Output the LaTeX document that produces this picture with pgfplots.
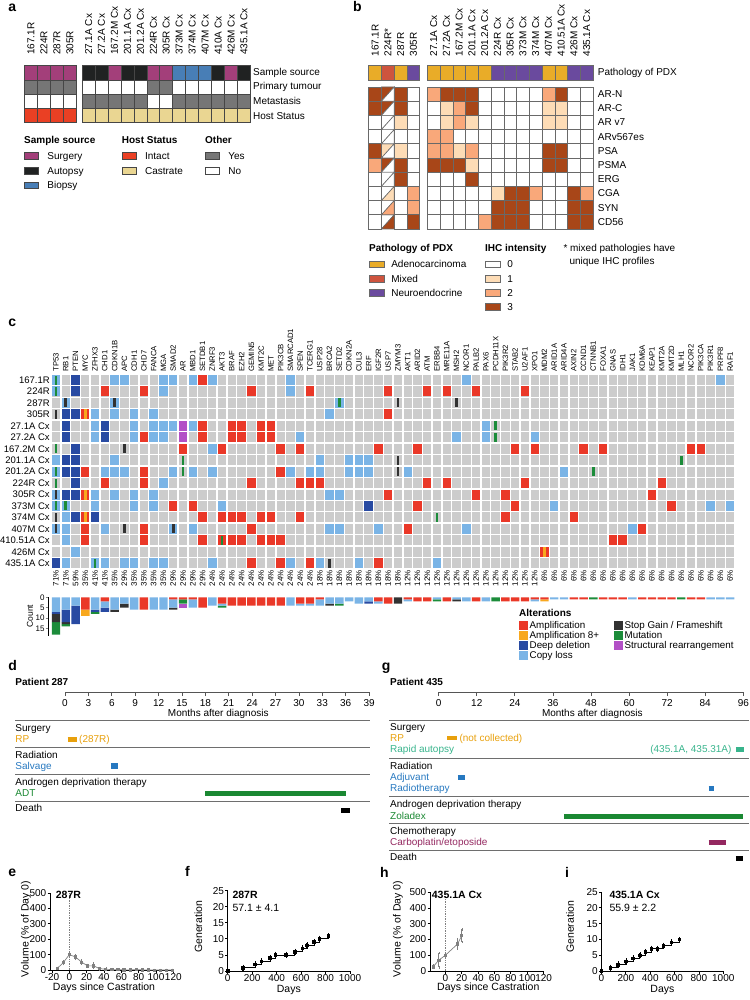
\documentclass[border=0pt]{standalone}
\usepackage{pgfplots}
\usepackage{pgfplotstable}
\pgfplotsset{compat=1.18}
\usepackage{fontspec}
\setmainfont{Liberation Sans}
\pgfplotsset{/pgf/number format/assume math mode=true,/pgf/number format/1000 sep={}}
\newcommand{\fs}[1]{\fontsize{#1}{#1}\selectfont}
\newcommand{\Tl}[4][]{\node[anchor=base west,inner sep=0pt,#1] at (#2pt,-#3pt) {#4};}
\newcommand{\Tc}[4][]{\node[anchor=base,inner sep=0pt,#1] at (#2pt,-#3pt) {#4};}

\definecolor{surg}{RGB}{163,63,122}
\definecolor{aut}{RGB}{32,34,34}
\definecolor{bio}{RGB}{72,126,182}
\definecolor{intact}{RGB}{234,64,36}
\definecolor{castr}{RGB}{234,214,146}
\definecolor{yesg}{RGB}{118,118,118}
\definecolor{abord}{RGB}{70,70,70}
\definecolor{adeno}{RGB}{233,172,40}
\definecolor{mixd}{RGB}{206,84,62}
\definecolor{neuro}{RGB}{106,74,158}
\definecolor{ihcA}{RGB}{253,220,182}
\definecolor{ihcB}{RGB}{249,168,122}
\definecolor{ihcC}{RGB}{168,70,24}
\definecolor{bbord}{RGB}{105,105,105}
\definecolor{cgrey}{RGB}{204,204,204}
\definecolor{lblue}{RGB}{122,180,230}
\definecolor{dblue}{RGB}{40,74,162}
\definecolor{ampr}{RGB}{234,56,40}
\definecolor{ampo}{RGB}{248,168,30}
\definecolor{stopg}{RGB}{50,50,50}
\definecolor{mutg}{RGB}{28,140,58}
\definecolor{strp}{RGB}{178,80,198}
\definecolor{rpc}{RGB}{232,160,12}
\definecolor{autc}{RGB}{56,180,140}
\definecolor{radc}{RGB}{38,120,192}
\definecolor{adtc}{RGB}{26,136,50}
\definecolor{chemc}{RGB}{148,40,96}
\definecolor{tlg}{RGB}{85,85,85}
\definecolor{sepc}{RGB}{110,110,110}

\pgfdeclareplotmark{acell}{\pgfpathrectangle{\pgfpoint{-6.475pt}{-7.125pt}}{\pgfpoint{12.95pt}{14.25pt}}\pgfusepathqfillstroke}
\pgfdeclareplotmark{bcell}{\pgfpathrectangle{\pgfpoint{-6.375pt}{-7.1pt}}{\pgfpoint{12.75pt}{14.2pt}}\pgfusepathqfillstroke}
\pgfdeclareplotmark{btriU}{\pgfpathmoveto{\pgfpoint{-6.375pt}{-7.1pt}}\pgfpathlineto{\pgfpoint{-6.375pt}{7.1pt}}\pgfpathlineto{\pgfpoint{6.375pt}{7.1pt}}\pgfpathclose\pgfusepathqfillstroke}
\pgfdeclareplotmark{btriL}{\pgfpathmoveto{\pgfpoint{-6.375pt}{-7.1pt}}\pgfpathlineto{\pgfpoint{6.375pt}{-7.1pt}}\pgfpathlineto{\pgfpoint{6.375pt}{7.1pt}}\pgfpathclose\pgfusepathqfillstroke}
\pgfdeclareplotmark{ccell}{\pgfpathrectangle{\pgfpoint{-4.2pt}{-5pt}}{\pgfpoint{8.4pt}{10pt}}\pgfusepathqfill}
\pgfdeclareplotmark{cbar}{\pgfpathrectangle{\pgfpoint{-1.3pt}{-4.5pt}}{\pgfpoint{2.6pt}{9pt}}\pgfusepathqfill}
\pgfdeclareplotmark{cstripe}{\pgfpathrectangle{\pgfpoint{-1.4pt}{-5pt}}{\pgfpoint{2.8pt}{10pt}}\pgfusepathqfill}

\pgfplotsset{legax/.style={scale only axis,width=1pt,height=1pt,hide axis,xmin=0,xmax=1,ymin=0,ymax=1,anchor=north west,
  legend style={at={(0,1)},anchor=north west,draw=none,fill=none,inner sep=0pt,outer sep=0pt},legend cell align=left},
  prism/.style={scale only axis,anchor=south west,clip=false,
  axis x line*=bottom,axis y line*=left,axis line style={line width=0.9pt,black},
  xtick pos=left,ytick pos=left,xticklabel pos=left,yticklabel pos=left,
  tick align=outside,major tick length=2.5pt,tick style={line width=0.9pt,black},
  xticklabel style={font=\fs{10},inner sep=1pt,anchor=north},
  yticklabel style={font=\fs{10},inner sep=1pt,anchor=east}}}

% counts per gene (columns of panel c): A=amplification, P=amplification 8+, L=copy loss, D=deep deletion, S=stop gain, M=mutation, R=structural
\pgfplotstableread{
c A P L D S M R
0 0 0 7 1 4 6 0
1 0 0 6 6 1 1 0
2 0 0 4 9 0 0 0
3 6 3 0 0 0 0 0
4 0 0 6 1 0 1 0
5 2 0 3 2 0 0 0
6 0 0 6 0 1 0 0
7 0 0 3 0 2 0 0
8 0 0 6 0 0 0 0
9 6 0 0 0 0 0 0
10 0 0 6 0 0 0 0
11 0 0 6 0 0 0 0
12 1 0 4 0 1 0 0
13 1 0 0 0 0 2 2
14 1 0 4 0 0 0 0
15 5 0 0 0 0 0 0
16 0 0 4 0 0 0 0
17 3 0 1 0 0 1 0
18 4 0 0 0 0 0 0
19 4 0 0 0 0 0 0
20 4 0 0 0 0 0 0
21 4 0 0 0 0 0 0
22 4 0 0 0 0 0 0
23 4 0 0 0 0 0 0
24 0 0 4 0 0 0 0
25 3 0 1 0 0 0 0
26 3 0 1 0 0 0 0
27 1 0 3 0 0 0 0
28 0 0 3 0 1 0 0
29 0 0 3 0 0 1 0
30 0 0 2 0 0 0 0
31 0 0 3 0 0 0 0
32 0 0 2 1 0 0 0
33 2 0 1 0 0 0 0
34 3 0 0 0 0 0 0
35 0 0 0 0 3 0 0
36 1 0 1 0 0 0 0
37 2 0 0 0 0 0 0
38 2 0 0 0 0 0 0
39 0 0 1 0 0 1 0
40 2 0 0 0 0 0 0
41 0 0 1 0 1 0 0
42 0 0 2 0 0 0 0
43 2 0 0 0 0 0 0
44 0 0 2 0 0 0 0
45 0 0 0 0 0 2 0
46 2 0 0 0 0 0 0
47 2 0 0 0 0 0 0
48 2 0 0 0 0 0 0
49 1 0 1 0 0 0 0
50 1 1 0 0 0 0 0
51 0 0 1 0 0 0 0
52 0 0 1 0 0 0 0
53 1 0 0 0 0 0 0
54 1 0 0 0 0 0 0
55 0 0 0 0 0 1 0
56 1 0 0 0 0 0 0
57 1 0 0 0 0 0 0
58 1 0 0 0 0 0 0
59 0 0 1 0 0 0 0
60 1 0 0 0 0 0 0
61 1 0 0 0 0 0 0
62 1 0 0 0 0 0 0
63 1 0 0 0 0 0 0
64 0 0 0 0 0 1 0
65 1 0 0 0 0 0 0
66 1 0 0 0 0 0 0
67 0 0 1 0 0 0 0
68 0 0 1 0 0 0 0
69 0 0 1 0 0 0 0
}\cnt

\pgfplotstableread{
d v e
-14 10 3
-7 48 10
0 100 3
7 85 12
14 52 8
21 27 6
28 27 15
35 9 5
42 5 3
49 3 2
56 2 2
63 1 1
70 1 1
77 2 1
84 1 1
91 1 1
98 0 1
105 0 1
112 0 0
119 0 0
}\edata

\pgfplotstableread{
d v e
-15 26 8
-8 69 45
0 100 0
15 172 30
20 225 40
}\hdata

\pgfplotstableread{
d g e
0 0 0
124 1 0.6
224 2 0.6
276 3 0.6
347 4 0.6
390 5 0.6
477 5 0.6
548 6 0.6
610 7 0.6
646 8 0.6
706 9 0.6
750 10 0.6
823 11 0.4
}\fdata

\pgfplotstableread{
d g e
0 0 0
74 1 0.6
137 2 0.6
200 3 0.6
260 4 0.6
315 5 0.6
359 6 0.6
411 7 0.6
460 7 0.6
507 8 0.6
575 9 0.6
638 10 0.4
}\idata

\begin{document}
\begin{tikzpicture}
\useasboundingbox (0pt,0pt) rectangle (749pt,-1000pt);

% ---------------- panel letters
\Tl[font=\fs{14}\bfseries]{8.3}{11.5}{a}
\Tl[font=\fs{14}\bfseries]{353}{11.5}{b}
\Tl[font=\fs{14}\bfseries]{8.3}{326.5}{c}
\Tl[font=\fs{14}\bfseries]{8.3}{670}{d}
\Tl[font=\fs{14}\bfseries]{381.7}{670}{g}
\Tl[font=\fs{14}\bfseries]{8.3}{876.5}{e}
\Tl[font=\fs{14}\bfseries]{185}{876.5}{f}
\Tl[font=\fs{14}\bfseries]{380}{877}{h}
\Tl[font=\fs{14}\bfseries]{565}{877}{i}

% ---------------- panel a
\begin{axis}[at={(24.5pt,-122.7pt)},anchor=south west,scale only axis,
  width=225.98pt,height=57pt,xmin=-0.5,xmax=16.95,ymin=-3.5,ymax=0.5,clip=false,
  axis line style={draw=none},tick style={draw=none},major tick length=0pt,
  xtick={0,1,2,3,4.45,5.45,6.45,7.45,8.45,9.45,10.45,11.45,12.45,13.45,14.45,15.45,16.45},
  xticklabels={167.1R,224R,287R,305R,27.1A Cx,27.2A Cx,167.2M Cx,201.1A Cx,201.2A Cx,224R Cx,305R Cx,373M Cx,374M Cx,407M Cx,410A Cx,426M Cx,435.1A Cx},
  xticklabel pos=upper,xticklabel style={rotate=90,anchor=west,inner sep=0pt,font=\fs{10}},xticklabel shift=10.5pt,
  ytick={-3,-2,-1,0},yticklabels={Host Status,Metastasis,Primary tumour,Sample source},
  yticklabel pos=upper,yticklabel style={anchor=west,inner sep=0pt,font=\fs{10}},yticklabel shift=2.5pt]
\addplot[only marks,mark=acell,draw=abord,fill=surg,line width=0.7pt] coordinates {(0,0)(1,0)(2,0)(3,0)(6.45,0)(9.45,0)(10.45,0)(15.45,0)};
\addplot[only marks,mark=acell,draw=abord,fill=aut,line width=0.7pt] coordinates {(4.45,0)(5.45,0)(7.45,0)(8.45,0)(14.45,0)(16.45,0)};
\addplot[only marks,mark=acell,draw=abord,fill=bio,line width=0.7pt] coordinates {(11.45,0)(12.45,0)(13.45,0)};
\addplot[only marks,mark=acell,draw=abord,fill=yesg,line width=0.7pt] coordinates {(0,-1)(1,-1)(2,-1)(3,-1)(9.45,-1)(10.45,-1)
  (4.45,-2)(5.45,-2)(6.45,-2)(7.45,-2)(8.45,-2)(11.45,-2)(12.45,-2)(13.45,-2)(14.45,-2)(15.45,-2)(16.45,-2)};
\addplot[only marks,mark=acell,draw=abord,fill=white,line width=0.7pt] coordinates {(4.45,-1)(5.45,-1)(6.45,-1)(7.45,-1)(8.45,-1)(11.45,-1)(12.45,-1)(13.45,-1)(14.45,-1)(15.45,-1)(16.45,-1)
  (0,-2)(1,-2)(2,-2)(3,-2)(9.45,-2)(10.45,-2)};
\addplot[only marks,mark=acell,draw=abord,fill=intact,line width=0.7pt] coordinates {(0,-3)(1,-3)(2,-3)(3,-3)};
\addplot[only marks,mark=acell,draw=abord,fill=castr,line width=0.7pt] coordinates {(4.45,-3)(5.45,-3)(6.45,-3)(7.45,-3)(8.45,-3)(9.45,-3)(10.45,-3)(11.45,-3)(12.45,-3)(13.45,-3)(14.45,-3)(15.45,-3)(16.45,-3)};
\end{axis}

\Tl[font=\fs{10}\bfseries]{24}{144}{Sample source}
\Tl[font=\fs{10}\bfseries]{121.7}{144}{Host Status}
\Tl[font=\fs{10}\bfseries]{205}{144}{Other}
\begin{axis}[legax,at={(24pt,-152.1pt)},
  legend style={row sep=5pt,font=\fs{10},nodes={inner sep=0pt,text height=7.5pt,text depth=2.2pt},/tikz/every odd column/.style={column sep=8.4pt}},
  legend image code/.code={\draw[#1] (0pt,-2.45pt) rectangle (14.3pt,4.25pt);}]
\addplot[draw=none,forget plot] coordinates {(0,0)};
\addlegendimage{fill=surg,draw=abord,line width=0.7pt}\addlegendentry{Surgery}
\addlegendimage{fill=aut,draw=abord,line width=0.7pt}\addlegendentry{Autopsy}
\addlegendimage{fill=bio,draw=abord,line width=0.7pt}\addlegendentry{Biopsy}
\end{axis}
\begin{axis}[legax,at={(121.7pt,-152.1pt)},
  legend style={row sep=5pt,font=\fs{10},nodes={inner sep=0pt,text height=7.5pt,text depth=2.2pt},/tikz/every odd column/.style={column sep=8.4pt}},
  legend image code/.code={\draw[#1] (0pt,-2.45pt) rectangle (14.3pt,4.25pt);}]
\addplot[draw=none,forget plot] coordinates {(0,0)};
\addlegendimage{fill=intact,draw=abord,line width=0.7pt}\addlegendentry{Intact}
\addlegendimage{fill=castr,draw=abord,line width=0.7pt}\addlegendentry{Castrate}
\end{axis}
\begin{axis}[legax,at={(205pt,-152.1pt)},
  legend style={row sep=5pt,font=\fs{10},nodes={inner sep=0pt,text height=7.5pt,text depth=2.2pt},/tikz/every odd column/.style={column sep=8.4pt}},
  legend image code/.code={\draw[#1] (0pt,-2.45pt) rectangle (14.3pt,4.25pt);}]
\addplot[draw=none,forget plot] coordinates {(0,0)};
\addlegendimage{fill=yesg,draw=abord,line width=0.7pt}\addlegendentry{Yes}
\addlegendimage{fill=white,draw=abord,line width=0.7pt}\addlegendentry{No}
\end{axis}

% ---------------- panel b
\begin{axis}[at={(368.7pt,-229pt)},anchor=south west,scale only axis,
  width=224.4pt,height=163.3pt,xmin=-0.5,xmax=17.1,ymin=-11,ymax=0.5,clip=false,
  axis line style={draw=none},tick style={draw=none},major tick length=0pt,
  xtick={0,1,2,3,4.6,5.6,6.6,7.6,8.6,9.6,10.6,11.6,12.6,13.6,14.6,15.6,16.6},
  xticklabels={167.1R,224R*,287R,305R,27.1A Cx,27.2A Cx,167.2M Cx,201.1A Cx,201.2A Cx,224R Cx,305R Cx,373M Cx,374M Cx,407M Cx,410.51A Cx,426M Cx,435.1A Cx},
  xticklabel pos=upper,xticklabel style={rotate=90,anchor=west,inner sep=0pt,font=\fs{10}},xticklabel shift=9pt,
  ytick={-10.5,-9.5,-8.5,-7.5,-6.5,-5.5,-4.5,-3.5,-2.5,-1.5,0},
  yticklabels={CD56,SYN,CGA,ERG,PSMA,PSA,ARv567es,AR v7,AR-C,AR-N,Pathology of PDX},
  yticklabel pos=upper,yticklabel style={anchor=west,inner sep=0pt,font=\fs{10}},yticklabel shift=4.6pt]
\addplot[only marks,mark=bcell,draw=bbord,fill=adeno,line width=0.6pt] coordinates {(0,0)(2,0)(4.6,0)(5.6,0)(6.6,0)(7.6,0)(8.6,0)(13.6,0)(14.6,0)};
\addplot[only marks,mark=bcell,draw=bbord,fill=mixd,line width=0.6pt] coordinates {(1,0)};
\addplot[only marks,mark=bcell,draw=bbord,fill=neuro,line width=0.6pt] coordinates {(3,0)(9.6,0)(10.6,0)(11.6,0)(12.6,0)(15.6,0)(16.6,0)};
\addplot[only marks,mark=bcell,draw=bbord,fill=white,line width=0.6pt] coordinates {
 (3,-1.5)(8.6,-1.5)(9.6,-1.5)(10.6,-1.5)(11.6,-1.5)(12.6,-1.5)(15.6,-1.5)(16.6,-1.5)
 (3,-2.5)(4.6,-2.5)(8.6,-2.5)(9.6,-2.5)(10.6,-2.5)(11.6,-2.5)(12.6,-2.5)(15.6,-2.5)(16.6,-2.5)
 (0,-3.5)(3,-3.5)(4.6,-3.5)(8.6,-3.5)(9.6,-3.5)(10.6,-3.5)(11.6,-3.5)(12.6,-3.5)(15.6,-3.5)(16.6,-3.5)
 (0,-4.5)(2,-4.5)(3,-4.5)(6.6,-4.5)(7.6,-4.5)(8.6,-4.5)(9.6,-4.5)(10.6,-4.5)(11.6,-4.5)(12.6,-4.5)(13.6,-4.5)(14.6,-4.5)(15.6,-4.5)(16.6,-4.5)
 (3,-5.5)(8.6,-5.5)(9.6,-5.5)(10.6,-5.5)(11.6,-5.5)(12.6,-5.5)(15.6,-5.5)(16.6,-5.5)
 (3,-6.5)(8.6,-6.5)(9.6,-6.5)(10.6,-6.5)(11.6,-6.5)(12.6,-6.5)(15.6,-6.5)(16.6,-6.5)
 (0,-7.5)(3,-7.5)(4.6,-7.5)(5.6,-7.5)(6.6,-7.5)(8.6,-7.5)(9.6,-7.5)(10.6,-7.5)(11.6,-7.5)(12.6,-7.5)(13.6,-7.5)(14.6,-7.5)(15.6,-7.5)(16.6,-7.5)
 (0,-8.5)(2,-8.5)(4.6,-8.5)(5.6,-8.5)(6.6,-8.5)(7.6,-8.5)(8.6,-8.5)(13.6,-8.5)(14.6,-8.5)
 (0,-9.5)(2,-9.5)(4.6,-9.5)(5.6,-9.5)(6.6,-9.5)(7.6,-9.5)(8.6,-9.5)(12.6,-9.5)(13.6,-9.5)(14.6,-9.5)
 (0,-10.5)(2,-10.5)(4.6,-10.5)(5.6,-10.5)(6.6,-10.5)(7.6,-10.5)(12.6,-10.5)(13.6,-10.5)(14.6,-10.5)};
\addplot[only marks,mark=bcell,draw=bbord,fill=ihcA,line width=0.6pt] coordinates {
 (5.6,-2.5)(13.6,-2.5)(14.6,-2.5)(2,-3.5)(5.6,-3.5)(7.6,-3.5)(13.6,-3.5)(14.6,-3.5)
 (2,-5.5)(6.6,-5.5)(7.6,-6.5)(9.6,-8.5)};
\addplot[only marks,mark=bcell,draw=bbord,fill=ihcB,line width=0.6pt] coordinates {
 (4.6,-1.5)(13.6,-1.5)(6.6,-2.5)(6.6,-3.5)(4.6,-4.5)(5.6,-4.5)(4.6,-5.5)(5.6,-5.5)(7.6,-5.5)
 (0,-6.5)(3,-8.5)(12.6,-8.5)(16.6,-8.5)(3,-9.5)(8.6,-10.5)};
\addplot[only marks,mark=bcell,draw=bbord,fill=ihcC,line width=0.6pt] coordinates {
 (0,-1.5)(2,-1.5)(5.6,-1.5)(6.6,-1.5)(7.6,-1.5)(14.6,-1.5)
 (0,-2.5)(2,-2.5)(7.6,-2.5)
 (0,-5.5)(13.6,-5.5)(14.6,-5.5)
 (2,-6.5)(4.6,-6.5)(5.6,-6.5)(6.6,-6.5)(13.6,-6.5)(14.6,-6.5)
 (2,-7.5)(7.6,-7.5)
 (10.6,-8.5)(11.6,-8.5)(15.6,-8.5)
 (9.6,-9.5)(10.6,-9.5)(11.6,-9.5)(15.6,-9.5)(16.6,-9.5)
 (3,-10.5)(9.6,-10.5)(10.6,-10.5)(11.6,-10.5)(15.6,-10.5)(16.6,-10.5)};
\addplot[only marks,mark=btriU,draw=bbord,fill=ihcC,line width=0.6pt] coordinates {(1,-1.5)(1,-2.5)(1,-6.5)};
\addplot[only marks,mark=btriU,draw=bbord,fill=ihcA,line width=0.6pt] coordinates {(1,-5.5)};
\addplot[only marks,mark=btriU,draw=bbord,fill=white,line width=0.6pt] coordinates {(1,-3.5)(1,-4.5)(1,-7.5)(1,-8.5)(1,-9.5)(1,-10.5)};
\addplot[only marks,mark=btriL,draw=bbord,fill=white,line width=0.6pt] coordinates {(1,-1.5)(1,-2.5)(1,-3.5)(1,-4.5)(1,-5.5)(1,-6.5)(1,-7.5)};
\addplot[only marks,mark=btriL,draw=bbord,fill=ihcA,line width=0.6pt] coordinates {(1,-8.5)};
\addplot[only marks,mark=btriL,draw=bbord,fill=ihcB,line width=0.6pt] coordinates {(1,-9.5)};
\addplot[only marks,mark=btriL,draw=bbord,fill=ihcC,line width=0.6pt] coordinates {(1,-10.5)};
\end{axis}

\Tl[font=\fs{10}\bfseries]{369}{251.6}{Pathology of PDX}
\Tl[font=\fs{10}\bfseries]{485}{251.6}{IHC intensity}
\Tl[font=\fs{10}]{563.3}{251.6}{* mixed pathologies have}
\Tl[font=\fs{10}]{569.3}{264.3}{unique IHC profiles}
\begin{axis}[legax,at={(368.7pt,-260.4pt)},
  legend style={row sep=4.5pt,font=\fs{10},nodes={inner sep=0pt,text height=7.5pt,text depth=2.2pt},/tikz/every odd column/.style={column sep=7pt}},
  legend image code/.code={\draw[#1] (0pt,-2.45pt) rectangle (15pt,4.25pt);}]
\addplot[draw=none,forget plot] coordinates {(0,0)};
\addlegendimage{fill=adeno,draw=bbord,line width=0.6pt}\addlegendentry{Adenocarcinoma}
\addlegendimage{fill=mixd,draw=bbord,line width=0.6pt}\addlegendentry{Mixed}
\addlegendimage{fill=neuro,draw=bbord,line width=0.6pt}\addlegendentry{Neuroendocrine}
\end{axis}
\begin{axis}[legax,at={(485pt,-260.4pt)},
  legend style={row sep=4.5pt,font=\fs{10},nodes={inner sep=0pt,text height=7.5pt,text depth=2.2pt},/tikz/every odd column/.style={column sep=6.7pt}},
  legend image code/.code={\draw[#1] (0pt,-2.45pt) rectangle (15pt,4.25pt);}]
\addplot[draw=none,forget plot] coordinates {(0,0)};
\addlegendimage{fill=white,draw=bbord,line width=0.6pt}\addlegendentry{0}
\addlegendimage{fill=ihcA,draw=bbord,line width=0.6pt}\addlegendentry{1}
\addlegendimage{fill=ihcB,draw=bbord,line width=0.6pt}\addlegendentry{2}
\addlegendimage{fill=ihcC,draw=bbord,line width=0.6pt}\addlegendentry{3}
\end{axis}

% ---------------- panel c : oncoprint grid
\begin{axis}[at={(51.1pt,-568.95pt)},anchor=south west,scale only axis,
  width=683.9pt,height=194.65pt,xmin=-0.5,xmax=69.5,ymin=-16.5,ymax=0.5,clip=false,
  axis background/.style={fill=cgrey},
  axis line style={draw=none},tick style={draw=none},major tick length=0pt,minor tick length=0pt,
  xtick={0,...,69},
  xticklabels={71\%,71\%,59\%,35\%,41\%,41\%,35\%,29\%,35\%,35\%,35\%,35\%,29\%,29\%,29\%,29\%,
   24\%,24\%,24\%,24\%,24\%,24\%,24\%,24\%,24\%,24\%,24\%,
   18\%,18\%,18\%,18\%,18\%,18\%,18\%,18\%,18\%,
   12\%,12\%,12\%,12\%,12\%,12\%,12\%,12\%,12\%,12\%,12\%,12\%,12\%,12\%,
   6\%,6\%,6\%,6\%,6\%,6\%,6\%,6\%,6\%,6\%,6\%,6\%,6\%,6\%,6\%,6\%,6\%,6\%,6\%,6\%},
  xticklabel style={rotate=90,anchor=east,inner sep=0pt,font=\fs{8}},xticklabel shift=1pt,
  ytick={-16,-15,-14,-13,-12,-11,-10,-9,-8,-7,-6,-5,-4,-3,-2,-1,0},
  yticklabels={435.1A Cx,426M Cx,410.51A Cx,407M Cx,374M Cx,373M Cx,305R Cx,224R Cx,201.2A Cx,201.1A Cx,167.2M Cx,27.2A Cx,27.1A Cx,305R,287R,224R,167.1R},
  yticklabel style={anchor=east,inner sep=0pt,font=\fs{9.5}},yticklabel shift=1.2pt,
  minor xtick={-0.5,0.5,...,69.5},minor ytick={-16.5,-15.5,...,0.5},
  xminorgrids=true,yminorgrids=true,minor grid style={white,line width=1.4pt}]
\addplot[only marks,mark=ccell,color=lblue] coordinates {
 (0,0)(0,-1)(0,-7)(0,-8)(0,-10)(0,-11)(0,-13)
 (1,-2)(1,-11)(1,-12)(1,-13)(1,-14)(1,-16)(2,-15)
 (4,-3)(4,-4)(4,-5)(4,-10)(4,-11)(4,-16)
 (5,-8)(5,-13)(5,-16)
 (6,0)(6,-2)(6,-3)(6,-7)(6,-8)(6,-10)
 (7,0)(7,-8)(7,-16)
 (8,-3)(8,-4)(8,-5)(8,-10)(8,-11)(8,-16)
 (10,-3)(10,-4)(10,-5)(10,-10)(10,-11)(10,-16)
 (11,0)(11,-1)(11,-4)(11,-5)(11,-9)(11,-16)
 (12,0)(12,-4)(12,-8)(12,-13)
 (14,0)(14,-4)(14,-8)(14,-13)
 (16,0)(16,-6)(16,-8)(16,-16)(17,-11)
 (24,0)(24,-1)(24,-8)(24,-16)(25,-5)(26,-8)
 (27,-7)(27,-8)(27,-16)(28,-3)(28,-10)(28,-13)(29,-2)(29,-10)(29,-13)
 (30,-7)(30,-8)(31,-7)(31,-8)(31,-16)(32,-7)(32,-8)
 (33,-13)(36,-8)(39,-16)(41,-5)(42,0)(42,-13)(44,-4)(44,-5)(49,-5)(51,-11)(52,-8)(59,-13)(67,-11)(68,0)(69,-11)};
\addplot[only marks,mark=ccell,color=dblue] coordinates {
 (0,-16)(1,-3)(1,-4)(1,-5)(1,-7)(1,-8)(1,-10)
 (2,0)(2,-1)(2,-3)(2,-6)(2,-7)(2,-8)(2,-9)(2,-10)(2,-12)
 (4,-12)(5,-4)(5,-5)(32,-11)};
\addplot[only marks,mark=ccell,color=ampr] coordinates {
 (3,-8)(3,-13)(3,-14)(5,-1)(5,-9)(9,-1)(9,-5)(9,-8)(9,-9)(9,-13)(9,-14)
 (12,-11)(13,-6)(14,-11)(15,0)(15,-4)(15,-5)(15,-12)(15,-14)
 (17,-6)(17,-12)(17,-14)(18,-4)(18,-5)(18,-12)(18,-14)(19,-4)(19,-5)(19,-12)(19,-14)
 (20,-1)(20,-9)(20,-13)(20,-16)(21,-4)(21,-5)(21,-12)(21,-14)(22,-4)(22,-5)(22,-12)(22,-14)
 (23,-6)(23,-8)(23,-14)(23,-16)(25,-6)(25,-9)(25,-12)(26,-1)(26,-9)(26,-16)(27,-9)
 (33,-6)(33,-16)(34,-1)(34,-3)(34,-10)(36,-13)(37,-6)(37,-11)(38,-1)(38,-9)(40,-1)(40,-9)
 (43,-1)(43,-10)(46,-10)(46,-12)(47,-6)(47,-11)(48,-1)(48,-9)(49,-6)(53,-12)(54,-6)(56,-6)
 (57,-14)(58,-14)(60,-13)(61,-10)(62,-9)(63,-11)(65,-6)(66,-6)};
\addplot[only marks,mark=ccell,color=ampr] coordinates {(3,-3)(3,-10)(3,-12)(50,-15)};
\addplot[only marks,mark=cstripe,color=ampo] coordinates {(3,-3)(3,-10)(3,-12)(50,-15)};
\addplot[only marks,mark=ccell,color=strp] coordinates {(13,-4)(13,-5)};
\addplot[only marks,mark=cbar,color=stopg] coordinates {
 (0,-3)(0,-10)(0,-12)(0,-13)(1,-2)(6,-2)(7,-6)(7,-13)(12,-13)(28,-16)(35,-2)(35,-7)(35,-8)(41,-2)};
\addplot[only marks,mark=cbar,color=mutg] coordinates {
 (0,0)(0,-1)(0,-6)(0,-8)(0,-9)(0,-11)(1,-11)(4,-16)(13,-7)(13,-8)(17,-14)(29,-2)(39,-12)(45,-4)(45,-5)(55,-8)(64,-7)};
\end{axis}

% gene names on top
\begin{axis}[at={(51.1pt,-568.95pt)},anchor=south west,scale only axis,
  width=683.9pt,height=194.65pt,xmin=-0.5,xmax=69.5,ymin=0,ymax=1,
  axis line style={draw=none},tick style={draw=none},major tick length=0pt,ytick=\empty,
  xtick={0,...,69},
  xticklabels={TP53,RB1,PTEN,MYC,ZFHX3,CHD1,CDKN1B,APC,CDH1,CHD7,FANCA,MGA,SMAD2,AR,MBD1,SETDB1,ZNRF3,AKT3,BRAF,EZH2,GEMIN5,KMT2C,MET,PIK3CB,SMARCAD1,SPEN,TCERG1,USP28,BRCA2,SETD2,CDKN2A,CUL3,ERF,
   IGF2R,USP7,ZMYM3,AKT1,ARID2,ATM,ERBB4,MRE11A,MSH2,NCOR1,PALB2,PAX6,PCDH11X,PIK3R2,STAB2,U2AF1,XPO1,MDM2,ARID1A,ARID4A,AXIN2,CCND1,CTNNB1,FOXA1,GNAS,IDH1,JAK1,KDM6A,KEAP1,KMT2A,KMT2D,MLH1,NCOR2,PIK3CA,PIK3R1,PRPF8,RAF1},
  xticklabel pos=upper,xticklabel style={rotate=90,anchor=west,inner sep=0pt,font=\fs{7.7}},xticklabel shift=2.5pt]
\addplot[draw=none] coordinates {(0,0)};
\end{axis}

% count bars
\begin{axis}[at={(48.2pt,-635.6pt)},anchor=south west,scale only axis,
  width=686.8pt,height=38.3pt,xmin=-0.8,xmax=69.5,ymin=0,ymax=18.5,y dir=reverse,clip=false,
  ybar stacked,bar width=8.4pt,
  axis x line=none,axis y line*=left,axis line style={line width=0.6pt},
  ytick={0,5,10,15},tick align=outside,major tick length=2.5pt,tick style={line width=0.6pt},
  yticklabel style={font=\fs{8},inner sep=1pt}]
\addplot[fill=ampr,draw=none] table[x=c,y=A]{\cnt};
\addplot[fill=ampo,draw=none] table[x=c,y=P]{\cnt};
\addplot[fill=lblue,draw=none] table[x=c,y=L]{\cnt};
\addplot[fill=dblue,draw=none] table[x=c,y=D]{\cnt};
\addplot[fill=stopg,draw=none] table[x=c,y=S]{\cnt};
\addplot[fill=mutg,draw=none] table[x=c,y=M]{\cnt};
\addplot[fill=strp,draw=none] table[x=c,y=R]{\cnt};
\end{axis}
\node[rotate=90,font=\fs{8.5}] at (30pt,-616pt) {Count};

\Tl[font=\fs{10}\bfseries]{519}{616.6}{Alterations}
\begin{axis}[legax,at={(519pt,-620.6pt)},legend columns=2,
  legend style={row sep=0.2pt,font=\fs{9.8},nodes={inner sep=0pt,text height=7pt,text depth=2pt},
    /tikz/every odd column/.style={column sep=2pt},/tikz/every even column/.style={column sep=14.8pt}},
  legend image code/.code={\fill[#1] (0pt,-3.15pt) rectangle (8.3pt,5.15pt);}]
\addplot[draw=none,forget plot] coordinates {(0,0)};
\addlegendimage{ampr}\addlegendentry{Amplification}
\addlegendimage{stopg}\addlegendentry{Stop Gain / Frameshift}
\addlegendimage{ampo}\addlegendentry{Amplification 8+}
\addlegendimage{mutg}\addlegendentry{Mutation}
\addlegendimage{dblue}\addlegendentry{Deep deletion}
\addlegendimage{strp}\addlegendentry{Structural rearrangement}
\addlegendimage{lblue}\addlegendentry{Copy loss}
\end{axis}

% ---------------- panel d : timeline patient 287
\Tl[font=\fs{10}\bfseries]{15.3}{685.6}{Patient 287}
\begin{axis}[at={(65pt,-692pt)},anchor=south west,scale only axis,width=304.08pt,height=5pt,
  xmin=0,xmax=39,ymin=0,ymax=1,axis x line*=bottom,axis y line=none,
  xtick={0,3,6,9,12,15,18,21,24,27,30,33,36,39},tick align=outside,major tick length=4pt,
  x axis line style={tlg,line width=0.8pt},tick style={tlg,line width=0.8pt},
  xticklabel style={font=\fs{10}}]
\addplot[draw=none] coordinates {(0,0)};
\end{axis}
\Tc[font=\fs{10}]{218.3}{716.6}{Months after diagnosis}
\foreach \yy in {720,747.3,774.3,801.3} {\draw[sepc,line width=0.8pt] (15pt,-\yy pt) -- (370pt,-\yy pt);}
\Tl[font=\fs{10}]{15.3}{731.6}{Surgery}
\Tl[font=\fs{10},text=rpc]{15.3}{742.6}{RP}
\Tl[font=\fs{10},text=rpc]{79}{742.6}{(287R)}
\Tl[font=\fs{10}]{15.3}{758.6}{Radiation}
\Tl[font=\fs{10},text=radc]{15.3}{769.6}{Salvage}
\Tl[font=\fs{10}]{15.3}{785.6}{Androgen deprivation therapy}
\Tl[font=\fs{10},text=adtc]{15.3}{796.6}{ADT}
\Tl[font=\fs{10}]{15.3}{811.6}{Death}
\begin{axis}[at={(15pt,-820pt)},anchor=south west,scale only axis,width=355pt,height=105pt,
  xmin=-6.41,xmax=39.12,ymin=-820,ymax=-715,hide axis,clip=false]
\addplot[rpc,line width=5pt] coordinates {(0.35,-739) (1.5,-739)};
\addplot[radc,line width=6pt] coordinates {(5.9,-766) (6.8,-766)};
\addplot[adtc,line width=5pt] coordinates {(18,-793) (36,-793)};
\addplot[black,line width=5pt] coordinates {(35.4,-810) (36.6,-810)};
\end{axis}

% ---------------- panel g : timeline patient 435
\Tl[font=\fs{10}\bfseries]{390}{685.6}{Patient 435}
\begin{axis}[at={(438.7pt,-692pt)},anchor=south west,scale only axis,width=304.6pt,height=5pt,
  xmin=0,xmax=96,ymin=0,ymax=1,axis x line*=bottom,axis y line=none,
  xtick={0,12,24,36,48,60,72,84,96},tick align=outside,major tick length=4pt,
  x axis line style={tlg,line width=0.8pt},tick style={tlg,line width=0.8pt},
  xticklabel style={font=\fs{10}}]
\addplot[draw=none] coordinates {(0,0)};
\end{axis}
\Tc[font=\fs{10}]{592.3}{716.6}{Months after diagnosis}
\foreach \yy in {720,758.3,796.7,823.3,850.7} {\draw[sepc,line width=0.8pt] (389pt,-\yy pt) -- (749pt,-\yy pt);}
\Tl[font=\fs{10}]{390}{730.6}{Surgery}
\Tl[font=\fs{10},text=rpc]{390}{741.6}{RP}
\Tl[font=\fs{10},text=rpc]{459.3}{741.6}{(not collected)}
\Tl[font=\fs{10},text=autc]{390}{752.6}{Rapid autopsy}
\node[anchor=base east,inner sep=0pt,font=\fs{10},text=autc] at (731.7pt,-752.6pt) {(435.1A, 435.31A)};
\Tl[font=\fs{10}]{390}{769.6}{Radiation}
\Tl[font=\fs{10},text=radc]{390}{780.6}{Adjuvant}
\Tl[font=\fs{10},text=radc]{390}{791.6}{Radiotherapy}
\Tl[font=\fs{10}]{390}{807.6}{Androgen deprivation therapy}
\Tl[font=\fs{10},text=adtc]{390}{819.3}{Zoladex}
\Tl[font=\fs{10}]{390}{834.6}{Chemotherapy}
\Tl[font=\fs{10},text=chemc]{390}{845.6}{Carboplatin/etoposide}
\Tl[font=\fs{10}]{390}{860.6}{Death}
\begin{axis}[at={(389pt,-865pt)},anchor=south west,scale only axis,width=360pt,height=150pt,
  xmin=-15.66,xmax=97.76,ymin=-865,ymax=-715,hide axis,clip=false]
\addplot[rpc,line width=4.7pt] coordinates {(2.7,-738) (5.7,-738)};
\addplot[autc,line width=5pt] coordinates {(93.6,-749) (96.3,-749)};
\addplot[radc,line width=5pt] coordinates {(6.0,-777) (8.3,-777)};
\addplot[radc,line width=5.5pt] coordinates {(85,-788.5) (86.8,-788.5)};
\addplot[adtc,line width=5pt] coordinates {(39.5,-816) (96,-816)};
\addplot[chemc,line width=5pt] coordinates {(85,-842) (90.5,-842)};
\addplot[black,line width=5pt] coordinates {(93.6,-858.5) (96,-858.5)};
\end{axis}

% ---------------- panel e
\begin{axis}[prism,at={(50pt,-970pt)},width=123.3pt,height=77pt,
  xmin=-22.3,xmax=120,ymin=0,ymax=500,
  xtick={-20,0,20,40,60,80,100,120},ytick={0,100,200,300,400,500},
  yticklabels={0,100,200,300,400,500}]
\addplot[densely dotted,gray,line width=0.7pt] coordinates {(0,0) (0,500)};
\addplot[gray,line width=0.7pt,mark=square*,mark size=1.1pt,
  error bars/.cd,y dir=both,y explicit,error bar style={gray,line width=0.6pt},error mark options={gray,mark size=1.3pt}]
  table[x=d,y=v,y error=e]{\edata};
\end{axis}
\Tl[font=\fs{10.5}\bfseries]{55.7}{898.6}{287R}
\node[rotate=90,font=\fs{10.5}] at (26pt,-929pt) {Volume (\% of Day 0)};
\Tc[font=\fs{10.5}]{104}{990.6}{Days since Castration}

% ---------------- panel f
\begin{axis}[prism,at={(227.7pt,-971pt)},width=122.3pt,height=80.3pt,
  xmin=0,xmax=1000,ymin=0,ymax=25,
  xtick={0,200,400,600,800,1000},ytick={0,5,10,15,20,25},
  yticklabels={0,5,10,15,20,25}]
\addplot[black,line width=0.8pt,const plot,mark=square*,mark size=1.3pt,
  error bars/.cd,y dir=both,y explicit,error bar style={black,line width=0.8pt},error mark options={black,mark size=1.3pt}]
  table[x=d,y=g,y error=e]{\fdata};
\end{axis}
\Tl[font=\fs{10.5}\bfseries]{232.3}{898.6}{287R}
\Tl[font=\fs{10.5}]{232.3}{911.9}{57.1 ± 4.1}
\node[rotate=90,font=\fs{10.5}] at (198.3pt,-926.7pt) {Generation};
\Tc[font=\fs{10.5}]{288.8}{992.6}{Days}

% ---------------- panel h
\begin{axis}[prism,at={(430pt,-971pt)},width=113.7pt,height=78.7pt,
  xmin=-18.7,xmax=120,ymin=0,ymax=500,
  xtick={-20,0,20,40,60,80,100,120},ytick={0,100,200,300,400,500},
  yticklabels={0,100,200,300,400,500}]
\addplot[densely dotted,gray,line width=0.7pt] coordinates {(0,0) (0,500)};
\addplot[gray,line width=0.7pt,mark=square*,mark size=1.1pt,
  error bars/.cd,y dir=both,y explicit,error bar style={gray,line width=0.6pt},error mark options={gray,mark size=1.3pt}]
  table[x=d,y=v,y error=e]{\hdata};
\end{axis}
\Tl[font=\fs{10.5}\bfseries]{431.7}{898.6}{435.1A Cx}
\node[rotate=90,font=\fs{10.5}] at (398pt,-929pt) {Volume (\% of Day 0)};
\Tc[font=\fs{10.5}]{488.3}{990.6}{Days since Castration}

% ---------------- panel i
\begin{axis}[prism,at={(601.5pt,-971pt)},width=121.8pt,height=79pt,
  xmin=0,xmax=1000,ymin=0,ymax=25,
  xtick={0,200,400,600,800,1000},ytick={0,5,10,15,20,25},
  yticklabels={0,5,10,15,20,25}]
\addplot[black,line width=0.8pt,const plot,mark=square*,mark size=1.3pt,
  error bars/.cd,y dir=both,y explicit,error bar style={black,line width=0.8pt},error mark options={black,mark size=1.3pt}]
  table[x=d,y=g,y error=e]{\idata};
\end{axis}
\Tl[font=\fs{10.5}\bfseries]{609.3}{898.6}{435.1A Cx}
\Tl[font=\fs{10.5}]{609.3}{911.9}{55.9 ± 2.2}
\node[rotate=90,font=\fs{10.5}] at (570pt,-926.7pt) {Generation};
\Tc[font=\fs{10.5}]{662.4}{992.6}{Days}

\end{tikzpicture}
\end{document}
